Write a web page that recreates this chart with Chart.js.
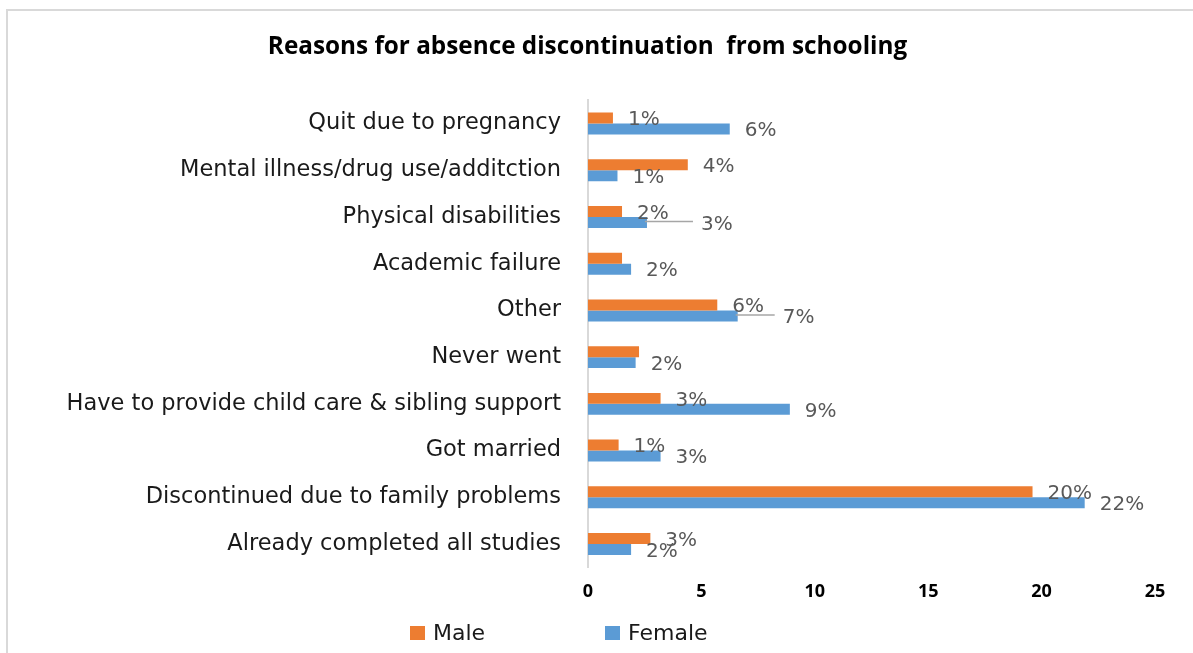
<!DOCTYPE html>
<html>
<head>
<meta charset="utf-8">
<script src="https://cdn.jsdelivr.net/npm/chart.js@4.4.1/dist/chart.umd.min.js"></script>
<style>
  html, body { margin: 0; padding: 0; background: #fff; }
  #wrap { position: relative; width: 1193px; height: 653px; overflow: hidden; }
  #frame { position: absolute; left: 6px; top: 9px; right: -4px; bottom: -4px;
           border-top: 2px solid #d9d9d9; border-left: 2px solid #d9d9d9; }
  canvas { position: absolute; left: 0; top: 0; }
</style>
</head>
<body>
<div id="wrap">
  <div id="frame"></div>
  <canvas id="chart" width="1193" height="653"></canvas>
</div>
<script>
// Categories, top to bottom as in the picture
const categories = [
  'Quit due to pregnancy',
  'Mental illness/drug use/additction',
  'Physical disabilities',
  'Academic failure',
  'Other',
  'Never went',
  'Have to provide child care & sibling support',
  'Got married',
  'Discontinued due to family problems',
  'Already completed all studies'
];

// Percent values
const maleValues   = [1.1, 4.4, 1.5, 1.5, 5.7, 2.25, 3.2, 1.35, 19.6, 2.75];
const femaleValues = [6.25, 1.3, 2.6, 1.9, 6.6, 2.1, 8.9, 3.2, 21.9, 1.9];

// Data label texts (null = no label shown)
const maleLabels   = ['1%', '4%', '2%', null, '6%', null, '3%', '1%', '20%', '3%'];
const femaleLabels = ['6%', '1%', '3%', '2%', '7%', '2%', '9%', '3%', '22%', '2%'];

const xTicks = [0, 5, 10, 15, 20, 25];

const MALE = '#ED7D31';
const FEMALE = '#5B9BD5';

// labels that were dragged away from the bar end, with a leader line
const movedLabels = { 1: { 2: 39, 4: 30 } };

const barLabels = {
  id: 'barLabels',
  afterDatasetsDraw(chart) {
    const ctx = chart.ctx;
    const texts = [maleLabels, femaleLabels];
    ctx.save();
    ctx.font = '20px "DejaVu Sans"';
    ctx.fillStyle = '#595959';
    ctx.textBaseline = 'middle';
    ctx.textAlign = 'left';
    chart.data.datasets.forEach((ds, di) => {
      chart.getDatasetMeta(di).data.forEach((bar, i) => {
        const t = texts[di][i];
        if (!t) return;
        const extra = (movedLabels[di] && movedLabels[di][i]) || 0;
        const x = bar.x + 15 + extra;
        const y = bar.y + 2;
        if (extra) {
          ctx.strokeStyle = '#a6a6a6';
          ctx.lineWidth = 1.5;
          ctx.beginPath();
          ctx.moveTo(bar.x - 2, bar.y - 1);
          ctx.lineTo(x - 8, bar.y - 1);
          ctx.stroke();
        }
        ctx.fillText(t, x, y);
      });
    });
    ctx.restore();
  }
};

const bottomLegend = {
  id: 'bottomLegend',
  afterDraw(chart) {
    const ctx = chart.ctx;
    const items = [
      { text: 'Male', color: MALE, x: 410 },
      { text: 'Female', color: FEMALE, x: 605 }
    ];
    const y = 633;
    ctx.save();
    ctx.font = '22px "DejaVu Sans"';
    ctx.textBaseline = 'middle';
    items.forEach(it => {
      ctx.fillStyle = it.color;
      ctx.fillRect(it.x, y - 7, 15, 14);
      ctx.fillStyle = '#1a1a1a';
      ctx.fillText(it.text, it.x + 23, y + 1);
    });
    ctx.restore();
  }
};

new Chart(document.getElementById('chart'), {
  type: 'bar',
  data: {
    labels: categories,
    datasets: [
      { label: 'Male', data: maleValues, backgroundColor: MALE,
        barPercentage: 1, categoryPercentage: 0.47 },
      { label: 'Female', data: femaleValues, backgroundColor: FEMALE,
        barPercentage: 1, categoryPercentage: 0.47 }
    ]
  },
  options: {
    indexAxis: 'y',
    responsive: false,
    animation: false,
    layout: { padding: { left: 20, right: 38, top: 0, bottom: 44 } },
    scales: {
      x: {
        min: 0,
        max: 25,
        afterBuildTicks: (axis) => { axis.ticks = xTicks.map(v => ({ value: v })); },
        grid: { display: false },
        border: { display: false },
        ticks: { color: '#000', padding: 6, font: { family: 'Open Sans', size: 18, weight: 'bold' } }
      },
      y: {
        grid: { display: false, drawTicks: false },
        border: { display: true, color: '#d9d9d9', width: 2 },
        afterFit: (axis) => { axis.width = 568; },
        ticks: { color: '#1a1a1a', padding: 27, font: { family: 'DejaVu Sans', size: 22.5 } }
      }
    },
    plugins: {
      legend: { display: false },
      tooltip: { enabled: false },
      title: {
        display: true,
        text: 'Reasons for absence discontinuation  from schooling',
        color: '#000',
        font: { family: 'Open Sans', size: 24.3, weight: 'bold' },
        padding: { top: 32, bottom: 39 }
      }
    }
  },
  plugins: [barLabels, bottomLegend]
});
</script>
</body>
</html>
